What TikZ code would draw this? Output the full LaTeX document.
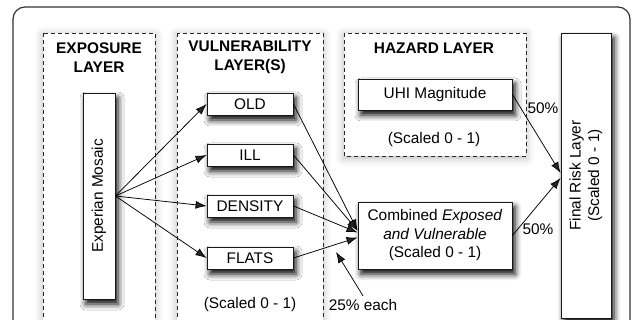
\documentclass[tikz,border=0pt]{standalone}
\usepackage{fontspec}
\setmainfont{Liberation Sans}
\usetikzlibrary{arrows.meta,shadows.blur}

\tikzset{
  layer/.style={draw=black!85, dash pattern=on 4pt off 3pt, line width=0.9pt, fill=white,
    blur shadow={shadow xshift=0pt, shadow yshift=-2pt, shadow opacity=30, shadow blur radius=8pt}},
  box/.style={draw=black!90, line width=0.9pt, fill=white, inner sep=0pt, align=center,
    blur shadow={shadow xshift=3pt, shadow yshift=-5pt, shadow opacity=100, shadow blur radius=6pt}},
  title/.style={align=center, font=\fontsize{15.4}{18.5}\selectfont\bfseries},
  link/.style={-{Latex[length=11pt,width=8pt]}, line width=0.75pt},
}

\begin{document}
\begin{tikzpicture}[x=1pt, y=-1pt, font=\fontsize{15.4}{18.5}\selectfont]
	\useasboundingbox (0,0) rectangle (632,320);
	\clip (0,0) rectangle (632,320);
	% frame and layers
	\draw[black!80, line width=1.2pt, rounded corners=12pt] (13,7) rectangle (630,360);
	\draw[layer] (43,33) rectangle (155,340);
	\draw[layer] (177,33) rectangle (323,340);
	\draw[layer] (344,33) rectangle (526,156);
	\node[title] (exptitle) at (99,57.5) {EXPOSURE\\LAYER};
	\node[title] (vultitle) at (250,57.5) {VULNERABILITY\\LAYER(S)};
	\node[title] (haztitle) at (434,48) {HAZARD LAYER};
	% boxes
	\node[box, rotate=90, minimum width=206pt, minimum height=32pt] (mosaic) at (99,196) {Experian Mosaic};
	\node[box, minimum width=86pt, minimum height=22pt] (old) at (250,104) {OLD};
	\node[box, minimum width=86pt, minimum height=22pt] (ill) at (250,155) {ILL};
	\node[box, minimum width=86pt, minimum height=22pt] (dens) at (250,206) {DENSITY};
	\node[box, minimum width=86pt, minimum height=22pt] (flats) at (250,258) {FLATS};
	\node (vulscale) at (250,305) {(Scaled 0 - 1)};
	\node[box, minimum width=154pt, minimum height=31pt] (uhi) at (435,94.5) {UHI Magnitude};
	\node (hazscale) at (434,140) {(Scaled 0 - 1)};
	\node[box, minimum width=154pt, minimum height=67pt] (comb) at (435,235.5)
		{Combined \textit{Exposed}\\\textit{and Vulnerable}\\(Scaled 0 - 1)};
	\node[box, rotate=90, minimum width=285pt, minimum height=50pt] (final) at (586,175.5)
		{Final Risk Layer\\(Scaled 0 - 1)};
	% links
	\foreach \v in {old,ill,dens,flats}
		\draw[link] (mosaic.south) -- (\v.west);
	\draw[link] (old.east) -- ([yshift=5pt]comb.west);
	\draw[link] (ill.east) -- ([yshift=5pt]comb.west);
	\draw[link] (dens.east) -- ([yshift=3pt]comb.west);
	\draw[link] (flats.east) -- ([yshift=-2pt]comb.west);
	\node (each) at (363,305) {25\% each};
	\coordinate (eachtip) at (336,252);
	\draw[link] (each.north) -- (eachtip);
	\draw[link] (uhi.east) -- ([yshift=2.5pt]final.north);
	\draw[link] (comb.east) -- ([yshift=-2.5pt]final.north);
	\node (puhi) at (543,108) {50\%};
	\node (pcomb) at (538,229) {50\%};
\end{tikzpicture}
\end{document}
